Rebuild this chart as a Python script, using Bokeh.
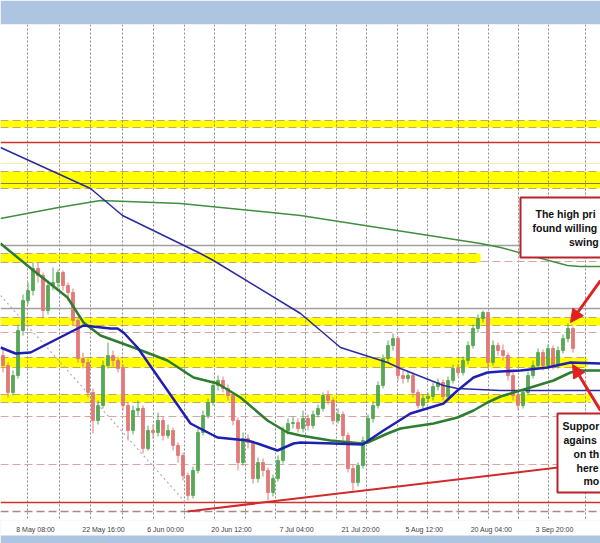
from bokeh.plotting import figure
from bokeh.models import Range1d, FixedTicker, Arrow, NormalHead
from bokeh.core.properties import value
from bokeh.embed import file_html
from bokeh.resources import INLINE

# ---------------- time axis ----------------
tick_x = [6.5, 20.1, 32.5, 45.7, 58.7, 71.5, 84.3, 97.7, 110.3]
tick_labels = ["8 May 08:00", "22 May 16:00", "6 Jun 00:00", "20 Jun 12:00", "7 Jul 04:00",
               "21 Jul 20:00", "5 Aug 12:00", "20 Aug 04:00", "3 Sep 20:00"]
grid_x = [4.9, 11.3, 17.5, 23.9, 30.1, 36.3, 42.3, 48.5, 54.5, 60.5, 66.7, 72.7, 78.9,
          84.9, 91.1, 97.1, 103.1, 109.1, 116.5]

# ---------------- price bars ----------------
opens = [245, 235, 208, 225, 270, 300, 310, 332, 325, 290, 315, 318, 328, 315, 308, 280, 242, 238, 208, 180,
         195, 235, 245, 240, 232, 195, 170, 190, 192, 152, 170, 168, 180, 165, 170, 155, 145, 125, 105, 130,
         168, 185, 198, 215, 220, 212, 205, 180, 138, 162, 158, 122, 138, 130, 108, 122, 140, 170, 177, 178,
         172, 182, 175, 186, 192, 205, 200, 180, 186, 165, 132, 118, 135, 160, 182, 195, 215, 242, 255, 262,
         225, 222, 225, 208, 195, 202, 204, 214, 218, 204, 220, 232, 228, 240, 255, 272, 282, 288, 238, 255,
         250, 245, 225, 205, 195, 208, 225, 235, 248, 235, 252, 235, 250, 262, 272]
closes = [235, 208, 225, 270, 300, 310, 332, 325, 290, 315, 318, 328, 315, 308, 280, 242, 238, 208, 180, 195,
          235, 245, 240, 232, 195, 170, 190, 192, 152, 170, 168, 180, 165, 170, 155, 145, 125, 105, 130, 168,
          185, 198, 215, 220, 212, 205, 180, 138, 162, 158, 122, 138, 130, 108, 122, 140, 170, 177, 178, 172,
          182, 175, 186, 192, 205, 200, 180, 186, 165, 132, 118, 135, 160, 182, 195, 215, 242, 255, 262, 225,
          222, 225, 208, 195, 202, 204, 214, 218, 204, 220, 232, 228, 240, 255, 272, 282, 288, 238, 255, 250,
          245, 225, 205, 195, 208, 225, 235, 248, 235, 252, 235, 250, 262, 272, 252]
highs = [252, 238, 230, 276, 306, 318, 338, 338, 328, 320, 333, 331, 330, 318, 312, 284, 248, 242, 212, 200,
         240, 258, 250, 244, 236, 198, 195, 200, 195, 175, 176, 188, 184, 176, 173, 158, 148, 128, 134, 172,
         190, 202, 220, 225, 224, 216, 208, 183, 168, 166, 160, 143, 142, 133, 126, 145, 174, 182, 184, 182,
         190, 186, 190, 196, 208, 210, 203, 192, 189, 168, 136, 138, 164, 186, 199, 219, 246, 260, 267, 264,
         230, 230, 228, 211, 206, 208, 218, 222, 221, 224, 236, 236, 244, 259, 276, 286, 290, 289, 260, 258,
         256, 248, 228, 208, 212, 229, 240, 252, 251, 256, 255, 254, 266, 277, 274]
lows = [228, 203, 205, 222, 265, 296, 305, 318, 282, 286, 310, 312, 310, 300, 275, 238, 232, 203, 167, 176,
        192, 232, 234, 228, 190, 160, 166, 185, 147, 150, 162, 164, 160, 162, 150, 138, 120, 100, 102, 127,
        165, 182, 195, 210, 208, 200, 175, 130, 135, 152, 117, 118, 124, 100, 104, 119, 137, 166, 172, 168,
        168, 170, 172, 183, 189, 196, 176, 177, 160, 128, 110, 114, 132, 157, 178, 192, 212, 238, 250, 220,
        217, 218, 203, 192, 192, 198, 200, 210, 200, 201, 217, 224, 225, 236, 252, 268, 278, 232, 235, 245,
        240, 220, 200, 190, 192, 205, 222, 232, 230, 232, 231, 232, 247, 258, 248]

# ---------------- moving averages ----------------
ma_slow_blue_x = [-0.5, 17.5, 23.9, 39.5, 42.1, 59.5, 67.5, 76.9, 79.5, 88.1, 90.9, 99.5, 119.5]
ma_slow_blue_y = [453, 412, 385, 347, 340, 287, 253, 238, 232, 215, 212, 210, 210]
ma_slow_green_x = [-0.5, 11.1, 19.5, 35.5, 59.5, 95.5, 99.5, 112.9, 115.5, 119.5]
ma_slow_green_y = [382, 393, 400, 397, 385, 357, 353, 335, 334, 334]
ma100_x = [-0.5, 2.5, 5.5, 16.1, 21.5, 22.9, 24.1, 26.9, 32.9, 37.5, 42.9, 48.9, 50.9, 54.9, 58.1, 59.5,
           66.1, 71.9, 76.1, 81.5, 88.1, 90.9, 94.1, 96.9, 99.5, 103.5, 108.9, 113.5, 119.5]
ma100_y = [253, 247, 248, 275, 272, 272, 268, 253, 210, 177, 163, 160, 157, 150, 157, 158,
           157, 156, 170, 187, 197, 210, 223, 228, 229, 230, 233, 238, 237]
ma200_x = [-0.5, 6.1, 12.9, 16.1, 19.5, 26.1, 32.9, 38.1, 42.9, 47.5, 52.9, 56.9, 59.5, 65.5, 71.9, 72.9,
           76.9, 79.5, 86.1, 90.9, 94.1, 96.9, 99.5, 105.5, 110.1, 113.5, 115.5, 119.5]
ma200_y = [357, 330, 303, 278, 265, 253, 240, 223, 217, 203, 180, 168, 165, 160, 157, 158,
           167, 172, 177, 183, 190, 198, 204, 213, 220, 228, 230, 230]

# ---------------- drawn levels ----------------
band_start = [-0.5, -0.5, -0.5, -0.5, -0.5, -0.5]
band_end = [119.5, 119.5, 95.5, 119.5, 116.9, 117.5]
band_bottom = [473, 412, 338, 275, 233, 198]
band_top = [480, 429, 347, 283, 243, 206]
red_levels = [458, 98]
gray_levels = [355, 292]
pink_levels = [268, 184, 136]
pink_partial_x = [95.5, 119.5]
pink_partial_y = 339
olive_level = 417
faint_level = 437
brown_level = 89
trend_x = [36.9, 119.5]
trend_y = [89, 138]
dotted_x = [-0.5, 36.5]
dotted_y = [305, 98]

# ---------------- annotations ----------------
box_left = [103.5, 110.9]
box_right = [125.0, 125.0]
box_top = [403, 187]
box_bottom = [343, 108]
note_x = [106.5, 105.9, 113.2, 111.9, 112.1, 114.1, 114.7, 116.1]
note_y = [387, 373, 359, 175, 161, 147, 133, 120]
note_text = ["The high pri", "found willing", "swing", "Suppor", "agains", "on th", "here", "mo"]
arrow_tail_x = [119.5, 119.5]
arrow_tail_y = [320, 190]
arrow_head_x = [113.5, 113.9]
arrow_head_y = [278, 236]

# ---------------- figure ----------------
X0, X1 = -0.5, 119.5
Y0, Y1 = 80, 576
p = figure(width=600, height=543, x_range=Range1d(X0, X1), y_range=Range1d(Y0, Y1),
           output_backend="svg", toolbar_location=None, y_axis_location=None,
           min_border_left=0, min_border_right=0, min_border_top=24, min_border_bottom=23)
p.border_fill_color = "#aec5e2"
p.background_fill_color = "white"
p.outline_line_color = None
p.xgrid.visible = False
p.ygrid.visible = False

# yellow zones
p.quad(left=band_start, right=band_end, bottom=band_bottom, top=band_top,
       fill_color="#ffff00", line_color=None)
p.segment(x0=band_start + band_start, y0=band_top + band_bottom, x1=band_end + band_end,
          y1=band_top + band_bottom, line_color="#c8a46a", line_width=1, line_dash="8 4")

# vertical time grid
p.vspan(x=grid_x, line_color="#8a8a8a", line_width=1, line_dash="2 2")

# horizontal levels
p.hspan(y=red_levels, line_color="#cc3333", line_width=1.6)
p.hspan(y=gray_levels, line_color="#a0a0a0", line_width=1.4)
p.hspan(y=pink_levels, line_color="#d9a5a5", line_width=1.2, line_dash="8 4")
p.hspan(y=[olive_level], line_color="#8a7a40", line_width=1)
p.hspan(y=[faint_level], line_color="#f2eeb0", line_width=1)
p.hspan(y=[brown_level], line_color="#a88888", line_width=1.4, line_dash="8 4")
p.line(x=pink_partial_x, y=[pink_partial_y, pink_partial_y], line_color="#d9a5a5",
       line_width=1.2, line_dash="8 4")

# candles
bar_x = list(range(len(closes)))
colors = ["#58a858" if c >= o else "#e27a7a" for o, c in zip(opens, closes)]
body_lo = [min(o, c) for o, c in zip(opens, closes)]
body_hi = [max(o, c) for o, c in zip(opens, closes)]
p.segment(x0=bar_x, y0=lows, x1=bar_x, y1=highs, line_color=colors, line_width=1)
p.vbar(x=bar_x, bottom=body_lo, top=body_hi, width=0.55, fill_color=colors, line_color=colors)

# trend lines
p.line(x=dotted_x, y=dotted_y, line_color="#b0b0b0", line_width=1.2, line_dash="2 3")
p.line(x=trend_x, y=trend_y, line_color="#d02a2a", line_width=2)

# moving averages
p.line(x=ma_slow_green_x, y=ma_slow_green_y, line_color="#3f8f3f", line_width=1.5)
p.line(x=ma_slow_blue_x, y=ma_slow_blue_y, line_color="#2b2ba0", line_width=1.5)
p.line(x=ma200_x, y=ma200_y, line_color="#2e7d2e", line_width=2.5)
p.line(x=ma100_x, y=ma100_y, line_color="#1f1fb0", line_width=2.5)

# note boxes
p.quad(left=box_left, right=box_right, top=box_top, bottom=box_bottom,
       fill_color="white", line_color="#b82228", line_width=2)
p.text(x=note_x, y=note_y, text=note_text, text_font=value("Liberation Sans"),
       text_font_style="bold", text_font_size="10.5px", text_color="#111111",
       text_align="left", text_baseline="middle")

for xs, ys, xe, ye in zip(arrow_tail_x, arrow_tail_y, arrow_head_x, arrow_head_y):
    p.add_layout(Arrow(end=NormalHead(size=13, fill_color="#e02020", line_color="#e02020"),
                       x_start=xs, y_start=ys, x_end=xe, y_end=ye,
                       line_color="#e02020", line_width=3))

# time axis
ax = p.xaxis[0]
ax.ticker = FixedTicker(ticks=tick_x)
ax.major_label_overrides = dict(zip(tick_x, tick_labels))
ax.axis_line_color = None
ax.major_tick_line_color = None
ax.minor_tick_line_color = None
ax.major_tick_out = 0
ax.major_tick_in = 0
ax.minor_tick_out = 0
ax.minor_tick_in = 0
ax.major_label_text_font = "Liberation Sans"
ax.major_label_text_font_size = "7px"
ax.major_label_text_color = "#404040"
ax.major_label_standoff = 5
if hasattr(ax, "background_fill_color"):
    ax.background_fill_color = "white"

open("out.html", "w").write(file_html(p, INLINE))
